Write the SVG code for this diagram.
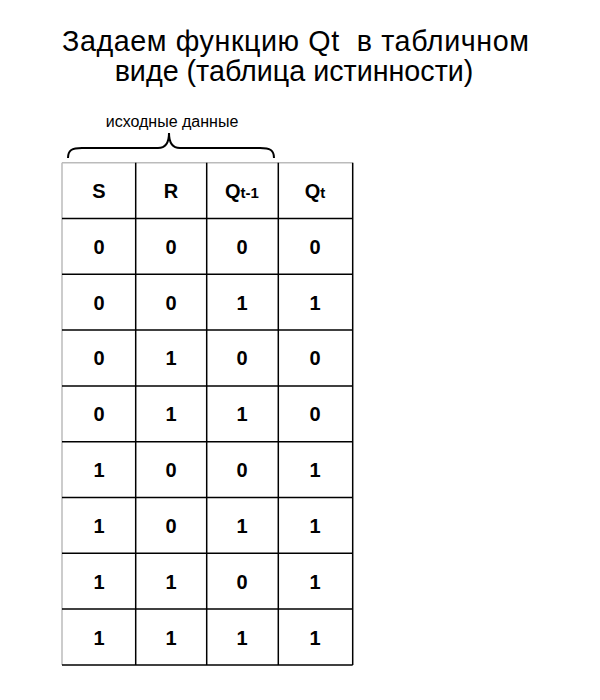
<svg xmlns="http://www.w3.org/2000/svg" width="600" height="700" viewBox="0 0 600 700">
<style>
.title{font-family:"Liberation Sans",Arial,sans-serif;font-size:28.7px;fill:#000;text-anchor:middle}
.lbl{font-family:"Liberation Sans",Arial,sans-serif;font-size:16px;fill:#000;text-anchor:middle}
.cell{font-family:"Liberation Sans",Arial,sans-serif;font-size:20px;font-weight:bold;fill:#000;text-anchor:middle}
.sub{font-size:15px}
.grid{stroke:#000;stroke-width:1.5;fill:none}
.edge{stroke:#bbb;stroke-width:1.5;fill:none}
</style>
<rect width="600" height="700" fill="#fff"/>
<g id="title">
<text class="title" x="295.5" y="51" xml:space="preserve" textLength="467" lengthAdjust="spacing">Задаем функцию Qt  в табличном</text>
<text class="title" x="294" y="81">виде (таблица истинности)</text>
</g>
<g id="brace">
<text class="lbl" x="172" y="127">исходные данные</text>
<path d="M68,158 C68,150 72,148 82,148 L158,148 C166,148 169,142 169,133 C169,142 172,148 180,148 L260,148 C270,148 274,150 274,158" fill="none" stroke="#000" stroke-width="2"/>
</g>
<g id="table">
<g id="lines">
<line class="edge" x1="62" y1="162.7" x2="352.7" y2="162.7"/>
<line class="edge" x1="62" y1="162.7" x2="62" y2="665"/>
<line class="grid" x1="135.7" y1="162.7" x2="135.7" y2="665"/>
<line class="grid" x1="206.7" y1="162.7" x2="206.7" y2="665"/>
<line class="grid" x1="278.3" y1="162.7" x2="278.3" y2="665"/>
<line class="grid" x1="352.7" y1="162.7" x2="352.7" y2="665"/>
<line class="grid" x1="62" y1="218.5" x2="352.7" y2="218.5"/>
<line class="grid" x1="62" y1="274.3" x2="352.7" y2="274.3"/>
<line class="grid" x1="62" y1="330.1" x2="352.7" y2="330.1"/>
<line class="grid" x1="62" y1="385.9" x2="352.7" y2="385.9"/>
<line class="grid" x1="62" y1="441.7" x2="352.7" y2="441.7"/>
<line class="grid" x1="62" y1="497.5" x2="352.7" y2="497.5"/>
<line class="grid" x1="62" y1="553.3" x2="352.7" y2="553.3"/>
<line class="grid" x1="62" y1="609.1" x2="352.7" y2="609.1"/>
<line class="grid" x1="62" y1="665" x2="352.7" y2="665"/>
</g>
<g id="header">
<text class="cell" x="99" y="198">S</text>
<text class="cell" x="171" y="198">R</text>
<text class="cell" x="242" y="198">Q<tspan class="sub">t-1</tspan></text>
<text class="cell" x="315" y="198">Q<tspan class="sub">t</tspan></text>
</g>
<g id="rows">
<text class="cell" x="99" y="253.5">0</text><text class="cell" x="171" y="253.5">0</text><text class="cell" x="242" y="253.5">0</text><text class="cell" x="315" y="253.5">0</text>
<text class="cell" x="99" y="309.5">0</text><text class="cell" x="171" y="309.5">0</text><text class="cell" x="242" y="309.5">1</text><text class="cell" x="315" y="309.5">1</text>
<text class="cell" x="99" y="365">0</text><text class="cell" x="171" y="365">1</text><text class="cell" x="242" y="365">0</text><text class="cell" x="315" y="365">0</text>
<text class="cell" x="99" y="421">0</text><text class="cell" x="171" y="421">1</text><text class="cell" x="242" y="421">1</text><text class="cell" x="315" y="421">0</text>
<text class="cell" x="99" y="477">1</text><text class="cell" x="171" y="477">0</text><text class="cell" x="242" y="477">0</text><text class="cell" x="315" y="477">1</text>
<text class="cell" x="99" y="532.5">1</text><text class="cell" x="171" y="532.5">0</text><text class="cell" x="242" y="532.5">1</text><text class="cell" x="315" y="532.5">1</text>
<text class="cell" x="99" y="588.5">1</text><text class="cell" x="171" y="588.5">1</text><text class="cell" x="242" y="588.5">0</text><text class="cell" x="315" y="588.5">1</text>
<text class="cell" x="99" y="644.5">1</text><text class="cell" x="171" y="644.5">1</text><text class="cell" x="242" y="644.5">1</text><text class="cell" x="315" y="644.5">1</text>
</g>
</g>
</svg>
